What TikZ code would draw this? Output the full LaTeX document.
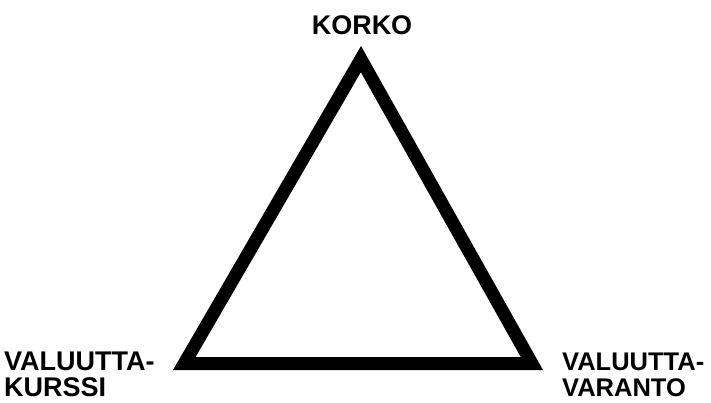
\documentclass[tikz,border=0pt]{standalone}
\usepackage{fontspec}
\setmainfont{Liberation Sans}
\usetikzlibrary{calc}
\begin{document}
\begin{tikzpicture}[x=1pt,y=1pt,
  lbl/.style={font=\bfseries\fontsize{27}{31}\selectfont, inner sep=0pt, text depth=0pt},
  lblr/.style={font=\bfseries\fontsize{25.5}{31}\selectfont, inner sep=0pt, text depth=0pt}]
\useasboundingbox (0,0) rectangle (711,402);
\coordinate (A) at (361,356);
\coordinate (B) at (173,32);
\coordinate (C) at (543,32);
\coordinate (I) at (359.5,139.4);
\fill[black,even odd rule] (A) -- (B) -- (C) -- cycle
  ($(I)!0.879!(A)$) -- ($(I)!0.879!(B)$) -- ($(I)!0.879!(C)$) -- cycle;
\node[lbl, anchor=base] (korko) at (362,367) {KORKO};
\node[lbl, anchor=base west] (vk1) at (4,32) {VALUUTTA-};
\node[lbl, anchor=base west] (vk2) at (4,6) {KURSSI};
\node[lblr, anchor=base west] (vv1) at (562,32) {VALUUTTA-};
\node[lblr, anchor=base west] (vv2) at (562,6) {VARANTO};
\end{tikzpicture}
\end{document}
